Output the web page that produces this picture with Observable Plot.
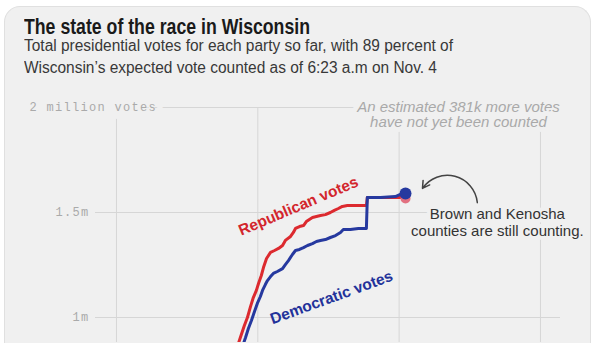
<!DOCTYPE html>
<html>
<head>
<meta charset="utf-8">
<script src="https://cdn.jsdelivr.net/npm/d3@7"></script>
<script src="https://cdn.jsdelivr.net/npm/@observablehq/plot@0.6"></script>
<style>
  html, body { margin: 0; padding: 0; background: #fff; }
  body { width: 600px; height: 351px; overflow: hidden; position: relative; font-family: "Liberation Sans", Arial, sans-serif; }
  #card { position: absolute; left: 4px; top: 6px; width: 587px; height: 337px; background: #f0f0f0;
          border: 1px solid #e0e0e0; border-bottom: none; border-radius: 16px 16px 0 0; box-sizing: border-box; overflow: hidden; }
  #title { position: absolute; left: 24px; top: 15.8px; font-family: "Liberation Sans", Arial, sans-serif;
           font-weight: bold; font-size: 22px; line-height: 22px; color: #1a1a1a; white-space: nowrap; transform-origin: 0 0; }
  #sub { position: absolute; left: 24px; top: 34.5px; font-family: "Liberation Sans", Arial, sans-serif;
         font-size: 16px; line-height: 22px; color: #383838; white-space: nowrap; transform-origin: 0 0; }
  #sub span { display: inline-block; }
  #chart { position: absolute; left: 0; top: 90px; width: 600px; height: 252px; overflow: hidden; }
</style>
</head>
<body>
<div id="card"></div>
<div id="title"><span id="titleText">The state of the race in Wisconsin</span></div>
<div id="sub"><span id="subLine1">Total presidential votes for each party so far, with 89 percent of</span><br><span>Wisconsin’s expected vote counted as of 6:23 a.m on Nov. 4</span></div>
<div id="chart"></div>
<script>
// x: hours after 6 p.m. ET on Nov. 3; y: votes in millions
const repHours = [5.01,5.26,5.43,5.56,5.69,5.81,5.94,6.03,6.15,6.24,6.37,6.54,6.71,6.88,7.05,7.17,7.39,7.51,7.60,7.77,7.94,8.06,8.19,8.32,8.49,8.66,8.87,9.08,9.25,9.42,9.59,9.80,10.06,10.36,10.61,10.65,12.27];
const repVotes = [0.819,0.905,0.962,1.000,1.052,1.095,1.129,1.162,1.200,1.238,1.281,1.310,1.319,1.329,1.343,1.367,1.386,1.405,1.424,1.433,1.438,1.457,1.467,1.476,1.481,1.486,1.490,1.500,1.510,1.519,1.529,1.533,1.533,1.533,1.533,1.572,1.572];
const demHours = [5.22,5.48,5.60,5.73,5.86,5.98,6.11,6.20,6.32,6.41,6.54,6.66,6.83,7.05,7.17,7.30,7.47,7.60,7.77,7.94,8.11,8.32,8.49,8.66,8.87,9.08,9.30,9.51,9.63,9.93,10.27,10.61,10.65,11.21,11.84,12.05,12.27];
const demVotes = [0.819,0.905,0.948,0.986,1.029,1.067,1.100,1.129,1.157,1.176,1.195,1.210,1.219,1.233,1.252,1.271,1.300,1.319,1.324,1.333,1.343,1.352,1.362,1.367,1.371,1.381,1.390,1.405,1.419,1.419,1.424,1.424,1.571,1.571,1.576,1.586,1.590];
const xGridTicks = [0, 6, 12, 18];
const yGridTicks = [1, 1.5, 2];
const yTickLabels = ["1m", "1.5m"];
const yTopLabel = "2 million votes";
const seriesNames = ["Republican votes", "Democratic votes"];
const noteUncounted = "An estimated 381k more votes\nhave not yet been counted";
const noteCounties = "Brown and Kenosha\ncounties are still counting.";

const rep = repHours.map((h, i) => ({h, v: repVotes[i]}));
const dem = demHours.map((h, i) => ({h, v: demVotes[i]}));
const repLast = rep[rep.length - 1];
const demLast = dem[dem.length - 1];

const RED = "#dc2a2f", BLUE = "#26399f", BG = "#f0f0f0", GRID = "#d6d6d6";
const mono = "'Liberation Mono', 'DejaVu Sans Mono', monospace";

const chart = Plot.plot({
  width: 600,
  height: 252,
  marginLeft: 95,
  marginRight: 40,
  marginTop: 17,
  marginBottom: 0,
  style: {background: "transparent", fontFamily: "'Liberation Sans', Arial, sans-serif"},
  x: {domain: [-0.89, 18.85], axis: null},
  y: {domain: [0.881, 2]},
  marks: [
    Plot.gridX(xGridTicks, {stroke: GRID, strokeOpacity: 1}),
    Plot.gridY(yGridTicks, {stroke: GRID, strokeOpacity: 1}),
    Plot.axisY(yGridTicks.slice(0, 2), {tickSize: 0, tickPadding: 6, tickFormat: (d, i) => yTickLabels[i],
      fontFamily: mono, fontSize: 12, color: "#aaaaaa"}),
    Plot.text([yGridTicks[2]], {y: d => d, text: () => yTopLabel, frameAnchor: "left", textAnchor: "start", dx: -66,
      fontFamily: mono, fontSize: 12, fill: "#aaaaaa", stroke: BG, strokeWidth: 16}),
    Plot.text([noteUncounted], {x: 14.52, y: 2, text: d => d, dy: 7, lineAnchor: "middle", lineHeight: 1.05,
      fontSize: 15, fontStyle: "italic", fill: "#a9a9a9", stroke: BG, strokeWidth: 10}),
    Plot.text([noteCounties], {x: 16.17, y: 1.455, text: d => d, lineAnchor: "middle", lineHeight: 1.13,
      fontSize: 15, fill: "#333", stroke: BG, strokeWidth: 8}),
    Plot.arrow([{x1: 15.32, y1: 1.547, x2: 12.99, y2: 1.615}], {x1: "x1", y1: "y1", x2: "x2", y2: "y2",
      bend: -70, stroke: "#444", strokeWidth: 1.5, headLength: 8}),
    Plot.line(rep, {x: "h", y: "v", stroke: RED, strokeWidth: 3, clip: true}),
    Plot.dot([repLast], {x: "h", y: "v", r: 5, dy: 1, fill: "#e27080", stroke: "none"}),
    Plot.line(dem, {x: "h", y: "v", stroke: BLUE, strokeWidth: 3, clip: true}),
    Plot.dot([demLast], {x: "h", y: "v", r: 6, fill: BLUE, stroke: "none"}),
    Plot.text([seriesNames[0]], {x: 7.72, y: 1.53, text: d => d, rotate: -23, fontSize: 15.5, fontWeight: "bold", fill: "#d3262c"}),
    Plot.text([seriesNames[1]], {x: 9.13, y: 1.095, text: d => d, rotate: -20, fontSize: 15.5, fontWeight: "bold", fill: "#23329a"})
  ]
});
document.getElementById("chart").appendChild(chart);

// monospace axis labels are letter-spaced in the reference
chart.querySelectorAll("g[font-family*='Mono'], g[font-family*='mono']").forEach(g => g.style.letterSpacing = "1.3px");

// the reference uses a condensed grotesque; fit the header text to its measured width
function fit() {
  const t = document.getElementById("titleText").getBoundingClientRect().width;
  document.getElementById("title").style.transform = `scaleX(${286 / t})`;
  const s = document.getElementById("subLine1").getBoundingClientRect().width;
  document.getElementById("sub").style.transform = `scaleX(${429 / s})`;
}
fit();
</script>
</body>
</html>
